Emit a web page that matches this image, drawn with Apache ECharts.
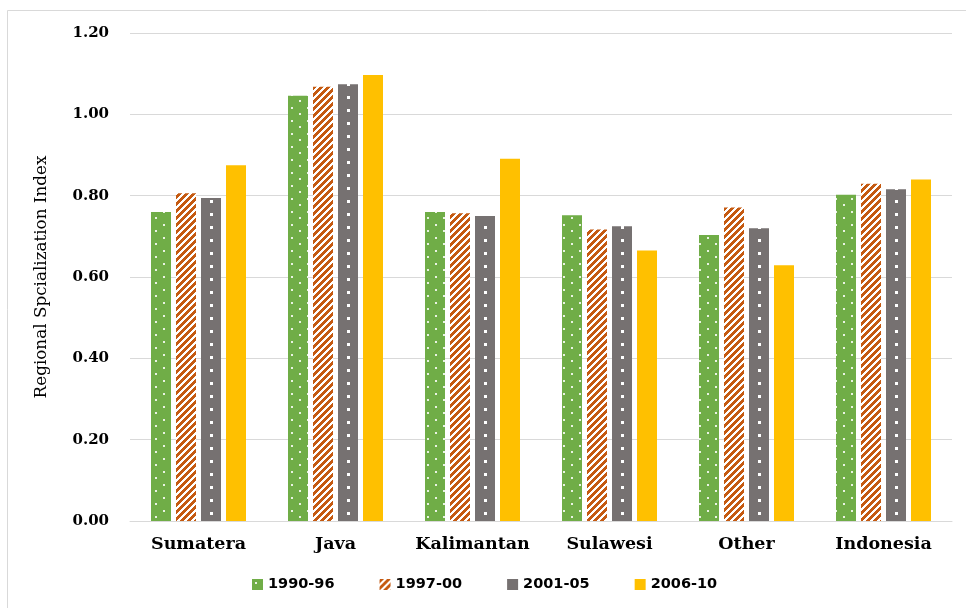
<!DOCTYPE html>
<html>
<head>
<meta charset="utf-8">
<script src="https://cdn.jsdelivr.net/npm/echarts@6/dist/echarts.min.js"></script>
<style>
  html, body { margin: 0; padding: 0; background: #ffffff; }
  #chart { width: 966px; height: 608px; }
</style>
</head>
<body>
<div id="chart"></div>
<script>
// Regions on the category axis
const regions = ['Sumatera', 'Java', 'Kalimantan', 'Sulawesi', 'Other', 'Indonesia'];
// Period names shown in the legend
const periods = ['1990-96', '1997-00', '2001-05', '2006-10'];
// Regional specialization index per period
const values1990_96 = [0.760, 1.046, 0.760, 0.752, 0.703, 0.802];
const values1997_00 = [0.806, 1.068, 0.757, 0.717, 0.771, 0.829];
const values2001_05 = [0.794, 1.074, 0.750, 0.725, 0.720, 0.816];
const values2006_10 = [0.875, 1.097, 0.891, 0.665, 0.629, 0.840];
// Value axis ticks
const yTicks = [0, 0.2, 0.4, 0.6, 0.8, 1.0, 1.2];

// Plot box; the category band width (plot width / 6) is reused as the
// width of the gray tile so its square column lands inside every gray bar
const GRID_LEFT = 130, GRID_RIGHT = 14;
const BAND = (966 - GRID_LEFT - GRID_RIGHT) / regions.length;

// Small repeating fills for the patterned bars
function makeTile(w, h, draw) {
  const c = document.createElement('canvas');
  c.width = w; c.height = h;
  draw(c.getContext('2d'), w, h);
  return { image: c, repeat: 'repeat' };
}

const dottedGreen = makeTile(16, 13, (g, w, h) => {
  g.fillStyle = '#70AD47'; g.fillRect(0, 0, w, h);
  g.fillStyle = 'rgba(255,255,255,0.85)';
  g.fillRect(3, 3, 2, 2);
  g.fillRect(11, 9, 2, 2);
});

const stripedOrange = makeTile(7, 7, (g, w, h) => {
  g.fillStyle = '#ffffff'; g.fillRect(0, 0, w, h);
  g.fillStyle = '#C55A11';
  for (let y = 0; y < h; y++) {
    for (let x = 0; x < w; x++) {
      if ((x + y) % 7 < 4) g.fillRect(x, y, 1, 1);
    }
  }
});

const squaredGray = makeTile(BAND, 13, (g, w, h) => {
  g.fillStyle = '#767171'; g.fillRect(0, 0, w, h);
  g.fillStyle = '#ffffff';
  g.fillRect(73, 5, 3, 3);
});

const fills = [dottedGreen, stripedOrange, squaredGray, '#FFC000'];
const seriesValues = [values1990_96, values1997_00, values2001_05, values2006_10];

const chart = echarts.init(document.getElementById('chart'), null, { renderer: 'canvas' });

chart.setOption({
  backgroundColor: '#ffffff',
  animation: false,
  graphic: [{
    type: 'rect',
    silent: true,
    shape: { x: 7.5, y: 10.5, width: 1000, height: 1000 },
    style: { fill: 'none', stroke: '#d9d9d9', lineWidth: 1 }
  }],
  grid: { left: GRID_LEFT, right: GRID_RIGHT, top: 33, bottom: 87, containLabel: false },
  legend: {
    data: periods,
    left: 247,
    top: 572,
    itemWidth: 11,
    itemHeight: 11,
    itemGap: 45,
    icon: 'rect',
    textStyle: { fontFamily: 'DejaVu Sans', fontWeight: 'bold', fontSize: 14.5, color: '#000000' }
  },
  xAxis: {
    type: 'category',
    data: regions,
    axisTick: { show: false },
    axisLine: { lineStyle: { color: '#d9d9d9', width: 1 } },
    axisLabel: {
      interval: 0,
      margin: 14,
      fontFamily: 'DejaVu Serif',
      fontWeight: 'bold',
      fontSize: 17.5,
      color: '#000000'
    }
  },
  yAxis: {
    type: 'value',
    min: yTicks[0],
    max: yTicks[yTicks.length - 1],
    interval: 0.2,
    name: 'Regional Spcialization Index',
    nameLocation: 'middle',
    nameRotate: 90,
    nameGap: 80,
    nameTextStyle: { fontFamily: 'DejaVu Serif', fontSize: 16.8, color: '#000000' },
    axisLine: { show: false },
    axisTick: { show: false },
    splitLine: { lineStyle: { color: '#d9d9d9', width: 1 } },
    axisLabel: {
      margin: 21,
      fontFamily: 'DejaVu Serif',
      fontWeight: 'bold',
      fontSize: 15,
      color: '#000000',
      formatter: v => v.toFixed(2)
    }
  },
  series: periods.map((name, i) => ({
    name: name,
    type: 'bar',
    data: seriesValues[i],
    barWidth: 20,
    barGap: '25%',
    itemStyle: { color: fills[i] }
  }))
});
</script>
</body>
</html>
